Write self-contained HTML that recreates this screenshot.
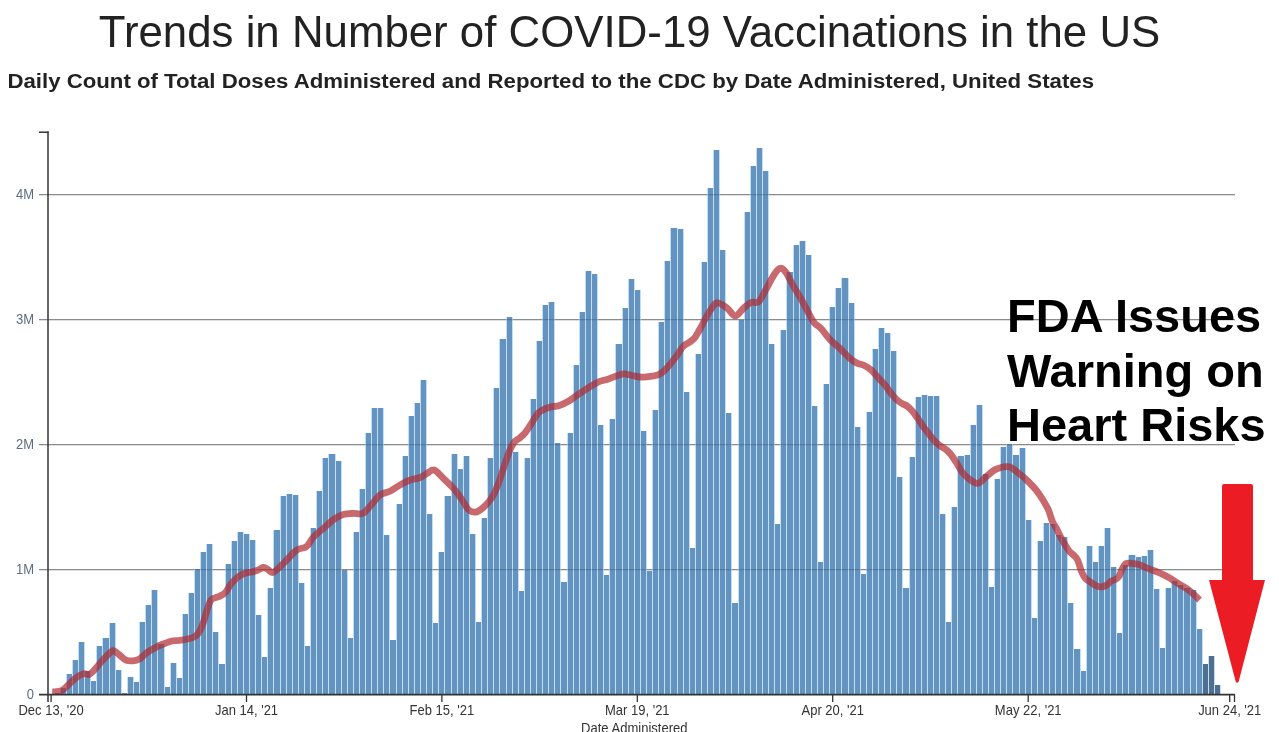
<!DOCTYPE html>
<html><head><meta charset="utf-8"><style>
html,body{margin:0;padding:0;background:#fff;width:1279px;height:732px;overflow:hidden}
svg{display:block;will-change:transform}
text{font-family:"Liberation Sans",sans-serif}
.title{font-size:44px;fill:#222}
.sub{font-size:20px;font-weight:bold;fill:#222}
.yl{font-size:13px;fill:#5d6e80}
.xl{font-size:13px;fill:#333}
.fda{font-size:47px;font-weight:bold;fill:#000}
</style></head><body>
<svg width="1279" height="732" viewBox="0 0 1279 732">
<rect width="1279" height="732" fill="#fff"/>
<text x="629.5" y="47" text-anchor="middle" class="title" textLength="1061.5" lengthAdjust="spacingAndGlyphs">Trends in Number of COVID-19 Vaccinations in the US</text>
<text x="7.4" y="88" class="sub" textLength="1086.6" lengthAdjust="spacingAndGlyphs">Daily Count of Total Doses Administered and Reported to the CDC by Date Administered, United States</text>
<line x1="39" y1="569.6" x2="1235" y2="569.6" stroke="#b0b0b0" stroke-width="1.2"/><line x1="39" y1="444.6" x2="1235" y2="444.6" stroke="#b0b0b0" stroke-width="1.2"/><line x1="39" y1="319.6" x2="1235" y2="319.6" stroke="#b0b0b0" stroke-width="1.2"/><line x1="39" y1="194.6" x2="1235" y2="194.6" stroke="#b0b0b0" stroke-width="1.2"/>
<g shape-rendering="crispEdges"><rect x="54" y="693" width="7" height="2" fill="#bfe0fb"/><rect x="55" y="693" width="5" height="2" fill="#6593bf"/><rect x="60" y="688" width="7" height="7" fill="#bfe0fb"/><rect x="61" y="688" width="5" height="7" fill="#6593bf"/><rect x="66" y="674" width="7" height="21" fill="#bfe0fb"/><rect x="67" y="674" width="5" height="21" fill="#6593bf"/><rect x="72" y="660" width="7" height="35" fill="#bfe0fb"/><rect x="73" y="660" width="5" height="35" fill="#6593bf"/><rect x="78" y="642" width="7" height="53" fill="#bfe0fb"/><rect x="79" y="642" width="5" height="53" fill="#6593bf"/><rect x="84" y="671" width="7" height="24" fill="#bfe0fb"/><rect x="85" y="671" width="5" height="24" fill="#6593bf"/><rect x="90" y="681" width="7" height="14" fill="#bfe0fb"/><rect x="91" y="681" width="5" height="14" fill="#6593bf"/><rect x="96" y="646" width="7" height="49" fill="#bfe0fb"/><rect x="97" y="646" width="5" height="49" fill="#6593bf"/><rect x="102" y="638" width="8" height="57" fill="#bfe0fb"/><rect x="103" y="638" width="6" height="57" fill="#6593bf"/><rect x="109" y="623" width="7" height="72" fill="#bfe0fb"/><rect x="110" y="623" width="5" height="72" fill="#6593bf"/><rect x="115" y="670" width="7" height="25" fill="#bfe0fb"/><rect x="116" y="670" width="5" height="25" fill="#6593bf"/><rect x="121" y="693" width="7" height="2" fill="#bfe0fb"/><rect x="122" y="693" width="5" height="2" fill="#6593bf"/><rect x="127" y="677" width="7" height="18" fill="#bfe0fb"/><rect x="128" y="677" width="5" height="18" fill="#6593bf"/><rect x="133" y="682" width="7" height="13" fill="#bfe0fb"/><rect x="134" y="682" width="5" height="13" fill="#6593bf"/><rect x="139" y="622" width="7" height="73" fill="#bfe0fb"/><rect x="140" y="622" width="5" height="73" fill="#6593bf"/><rect x="145" y="605" width="7" height="90" fill="#bfe0fb"/><rect x="146" y="605" width="5" height="90" fill="#6593bf"/><rect x="151" y="590" width="7" height="105" fill="#bfe0fb"/><rect x="152" y="590" width="5" height="105" fill="#6593bf"/><rect x="157" y="644" width="8" height="51" fill="#bfe0fb"/><rect x="158" y="644" width="6" height="51" fill="#6593bf"/><rect x="164" y="687" width="7" height="8" fill="#bfe0fb"/><rect x="165" y="687" width="5" height="8" fill="#6593bf"/><rect x="170" y="663" width="7" height="32" fill="#bfe0fb"/><rect x="171" y="663" width="5" height="32" fill="#6593bf"/><rect x="176" y="678" width="7" height="17" fill="#bfe0fb"/><rect x="177" y="678" width="5" height="17" fill="#6593bf"/><rect x="182" y="614" width="7" height="81" fill="#bfe0fb"/><rect x="183" y="614" width="5" height="81" fill="#6593bf"/><rect x="188" y="593" width="7" height="102" fill="#bfe0fb"/><rect x="189" y="593" width="5" height="102" fill="#6593bf"/><rect x="194" y="569" width="7" height="126" fill="#bfe0fb"/><rect x="195" y="569" width="5" height="126" fill="#6593bf"/><rect x="200" y="552" width="7" height="143" fill="#bfe0fb"/><rect x="201" y="552" width="5" height="143" fill="#6593bf"/><rect x="206" y="544" width="7" height="151" fill="#bfe0fb"/><rect x="207" y="544" width="5" height="151" fill="#6593bf"/><rect x="212" y="632" width="7" height="63" fill="#bfe0fb"/><rect x="213" y="632" width="5" height="63" fill="#6593bf"/><rect x="218" y="664" width="8" height="31" fill="#bfe0fb"/><rect x="219" y="664" width="6" height="31" fill="#6593bf"/><rect x="225" y="564" width="7" height="131" fill="#bfe0fb"/><rect x="226" y="564" width="5" height="131" fill="#6593bf"/><rect x="231" y="541" width="7" height="154" fill="#bfe0fb"/><rect x="232" y="541" width="5" height="154" fill="#6593bf"/><rect x="237" y="532" width="7" height="163" fill="#bfe0fb"/><rect x="238" y="532" width="5" height="163" fill="#6593bf"/><rect x="243" y="534" width="7" height="161" fill="#bfe0fb"/><rect x="244" y="534" width="5" height="161" fill="#6593bf"/><rect x="249" y="540" width="7" height="155" fill="#bfe0fb"/><rect x="250" y="540" width="5" height="155" fill="#6593bf"/><rect x="255" y="615" width="7" height="80" fill="#bfe0fb"/><rect x="256" y="615" width="5" height="80" fill="#6593bf"/><rect x="261" y="657" width="7" height="38" fill="#bfe0fb"/><rect x="262" y="657" width="5" height="38" fill="#6593bf"/><rect x="267" y="588" width="7" height="107" fill="#bfe0fb"/><rect x="268" y="588" width="5" height="107" fill="#6593bf"/><rect x="273" y="530" width="8" height="165" fill="#bfe0fb"/><rect x="274" y="530" width="6" height="165" fill="#6593bf"/><rect x="280" y="496" width="7" height="199" fill="#bfe0fb"/><rect x="281" y="496" width="5" height="199" fill="#6593bf"/><rect x="286" y="494" width="7" height="201" fill="#bfe0fb"/><rect x="287" y="494" width="5" height="201" fill="#6593bf"/><rect x="292" y="495" width="7" height="200" fill="#bfe0fb"/><rect x="293" y="495" width="5" height="200" fill="#6593bf"/><rect x="298" y="583" width="7" height="112" fill="#bfe0fb"/><rect x="299" y="583" width="5" height="112" fill="#6593bf"/><rect x="304" y="646" width="7" height="49" fill="#bfe0fb"/><rect x="305" y="646" width="5" height="49" fill="#6593bf"/><rect x="310" y="528" width="7" height="167" fill="#bfe0fb"/><rect x="311" y="528" width="5" height="167" fill="#6593bf"/><rect x="316" y="491" width="7" height="204" fill="#bfe0fb"/><rect x="317" y="491" width="5" height="204" fill="#6593bf"/><rect x="322" y="458" width="7" height="237" fill="#bfe0fb"/><rect x="323" y="458" width="5" height="237" fill="#6593bf"/><rect x="328" y="454" width="8" height="241" fill="#bfe0fb"/><rect x="329" y="454" width="6" height="241" fill="#6593bf"/><rect x="335" y="461" width="7" height="234" fill="#bfe0fb"/><rect x="336" y="461" width="5" height="234" fill="#6593bf"/><rect x="341" y="570" width="7" height="125" fill="#bfe0fb"/><rect x="342" y="570" width="5" height="125" fill="#6593bf"/><rect x="347" y="638" width="7" height="57" fill="#bfe0fb"/><rect x="348" y="638" width="5" height="57" fill="#6593bf"/><rect x="353" y="532" width="7" height="163" fill="#bfe0fb"/><rect x="354" y="532" width="5" height="163" fill="#6593bf"/><rect x="359" y="489" width="7" height="206" fill="#bfe0fb"/><rect x="360" y="489" width="5" height="206" fill="#6593bf"/><rect x="365" y="433" width="7" height="262" fill="#bfe0fb"/><rect x="366" y="433" width="5" height="262" fill="#6593bf"/><rect x="371" y="408" width="7" height="287" fill="#bfe0fb"/><rect x="372" y="408" width="5" height="287" fill="#6593bf"/><rect x="377" y="408" width="7" height="287" fill="#bfe0fb"/><rect x="378" y="408" width="5" height="287" fill="#6593bf"/><rect x="383" y="535" width="7" height="160" fill="#bfe0fb"/><rect x="384" y="535" width="5" height="160" fill="#6593bf"/><rect x="389" y="640" width="8" height="55" fill="#bfe0fb"/><rect x="390" y="640" width="6" height="55" fill="#6593bf"/><rect x="396" y="504" width="7" height="191" fill="#bfe0fb"/><rect x="397" y="504" width="5" height="191" fill="#6593bf"/><rect x="402" y="456" width="7" height="239" fill="#bfe0fb"/><rect x="403" y="456" width="5" height="239" fill="#6593bf"/><rect x="408" y="416" width="7" height="279" fill="#bfe0fb"/><rect x="409" y="416" width="5" height="279" fill="#6593bf"/><rect x="414" y="403" width="7" height="292" fill="#bfe0fb"/><rect x="415" y="403" width="5" height="292" fill="#6593bf"/><rect x="420" y="380" width="7" height="315" fill="#bfe0fb"/><rect x="421" y="380" width="5" height="315" fill="#6593bf"/><rect x="426" y="514" width="7" height="181" fill="#bfe0fb"/><rect x="427" y="514" width="5" height="181" fill="#6593bf"/><rect x="432" y="623" width="7" height="72" fill="#bfe0fb"/><rect x="433" y="623" width="5" height="72" fill="#6593bf"/><rect x="438" y="552" width="7" height="143" fill="#bfe0fb"/><rect x="439" y="552" width="5" height="143" fill="#6593bf"/><rect x="444" y="496" width="8" height="199" fill="#bfe0fb"/><rect x="445" y="496" width="6" height="199" fill="#6593bf"/><rect x="451" y="454" width="7" height="241" fill="#bfe0fb"/><rect x="452" y="454" width="5" height="241" fill="#6593bf"/><rect x="457" y="469" width="7" height="226" fill="#bfe0fb"/><rect x="458" y="469" width="5" height="226" fill="#6593bf"/><rect x="463" y="456" width="7" height="239" fill="#bfe0fb"/><rect x="464" y="456" width="5" height="239" fill="#6593bf"/><rect x="469" y="534" width="7" height="161" fill="#bfe0fb"/><rect x="470" y="534" width="5" height="161" fill="#6593bf"/><rect x="475" y="622" width="7" height="73" fill="#bfe0fb"/><rect x="476" y="622" width="5" height="73" fill="#6593bf"/><rect x="481" y="518" width="7" height="177" fill="#bfe0fb"/><rect x="482" y="518" width="5" height="177" fill="#6593bf"/><rect x="487" y="458" width="7" height="237" fill="#bfe0fb"/><rect x="488" y="458" width="5" height="237" fill="#6593bf"/><rect x="493" y="388" width="7" height="307" fill="#bfe0fb"/><rect x="494" y="388" width="5" height="307" fill="#6593bf"/><rect x="499" y="339" width="8" height="356" fill="#bfe0fb"/><rect x="500" y="339" width="6" height="356" fill="#6593bf"/><rect x="506" y="317" width="7" height="378" fill="#bfe0fb"/><rect x="507" y="317" width="5" height="378" fill="#6593bf"/><rect x="512" y="452" width="7" height="243" fill="#bfe0fb"/><rect x="513" y="452" width="5" height="243" fill="#6593bf"/><rect x="518" y="591" width="7" height="104" fill="#bfe0fb"/><rect x="519" y="591" width="5" height="104" fill="#6593bf"/><rect x="524" y="458" width="7" height="237" fill="#bfe0fb"/><rect x="525" y="458" width="5" height="237" fill="#6593bf"/><rect x="530" y="399" width="7" height="296" fill="#bfe0fb"/><rect x="531" y="399" width="5" height="296" fill="#6593bf"/><rect x="536" y="341" width="7" height="354" fill="#bfe0fb"/><rect x="537" y="341" width="5" height="354" fill="#6593bf"/><rect x="542" y="305" width="7" height="390" fill="#bfe0fb"/><rect x="543" y="305" width="5" height="390" fill="#6593bf"/><rect x="548" y="302" width="7" height="393" fill="#bfe0fb"/><rect x="549" y="302" width="5" height="393" fill="#6593bf"/><rect x="554" y="443" width="7" height="252" fill="#bfe0fb"/><rect x="555" y="443" width="5" height="252" fill="#6593bf"/><rect x="560" y="582" width="8" height="113" fill="#bfe0fb"/><rect x="561" y="582" width="6" height="113" fill="#6593bf"/><rect x="567" y="433" width="7" height="262" fill="#bfe0fb"/><rect x="568" y="433" width="5" height="262" fill="#6593bf"/><rect x="573" y="365" width="7" height="330" fill="#bfe0fb"/><rect x="574" y="365" width="5" height="330" fill="#6593bf"/><rect x="579" y="312" width="7" height="383" fill="#bfe0fb"/><rect x="580" y="312" width="5" height="383" fill="#6593bf"/><rect x="585" y="271" width="7" height="424" fill="#bfe0fb"/><rect x="586" y="271" width="5" height="424" fill="#6593bf"/><rect x="591" y="274" width="7" height="421" fill="#bfe0fb"/><rect x="592" y="274" width="5" height="421" fill="#6593bf"/><rect x="597" y="425" width="7" height="270" fill="#bfe0fb"/><rect x="598" y="425" width="5" height="270" fill="#6593bf"/><rect x="603" y="575" width="7" height="120" fill="#bfe0fb"/><rect x="604" y="575" width="5" height="120" fill="#6593bf"/><rect x="609" y="419" width="7" height="276" fill="#bfe0fb"/><rect x="610" y="419" width="5" height="276" fill="#6593bf"/><rect x="615" y="344" width="8" height="351" fill="#bfe0fb"/><rect x="616" y="344" width="6" height="351" fill="#6593bf"/><rect x="622" y="308" width="7" height="387" fill="#bfe0fb"/><rect x="623" y="308" width="5" height="387" fill="#6593bf"/><rect x="628" y="279" width="7" height="416" fill="#bfe0fb"/><rect x="629" y="279" width="5" height="416" fill="#6593bf"/><rect x="634" y="290" width="7" height="405" fill="#bfe0fb"/><rect x="635" y="290" width="5" height="405" fill="#6593bf"/><rect x="640" y="431" width="7" height="264" fill="#bfe0fb"/><rect x="641" y="431" width="5" height="264" fill="#6593bf"/><rect x="646" y="571" width="7" height="124" fill="#bfe0fb"/><rect x="647" y="571" width="5" height="124" fill="#6593bf"/><rect x="652" y="410" width="7" height="285" fill="#bfe0fb"/><rect x="653" y="410" width="5" height="285" fill="#6593bf"/><rect x="658" y="322" width="7" height="373" fill="#bfe0fb"/><rect x="659" y="322" width="5" height="373" fill="#6593bf"/><rect x="664" y="261" width="7" height="434" fill="#bfe0fb"/><rect x="665" y="261" width="5" height="434" fill="#6593bf"/><rect x="670" y="228" width="8" height="467" fill="#bfe0fb"/><rect x="671" y="228" width="6" height="467" fill="#6593bf"/><rect x="677" y="229" width="7" height="466" fill="#bfe0fb"/><rect x="678" y="229" width="5" height="466" fill="#6593bf"/><rect x="683" y="392" width="7" height="303" fill="#bfe0fb"/><rect x="684" y="392" width="5" height="303" fill="#6593bf"/><rect x="689" y="548" width="7" height="147" fill="#bfe0fb"/><rect x="690" y="548" width="5" height="147" fill="#6593bf"/><rect x="695" y="354" width="7" height="341" fill="#bfe0fb"/><rect x="696" y="354" width="5" height="341" fill="#6593bf"/><rect x="701" y="262" width="7" height="433" fill="#bfe0fb"/><rect x="702" y="262" width="5" height="433" fill="#6593bf"/><rect x="707" y="188" width="7" height="507" fill="#bfe0fb"/><rect x="708" y="188" width="5" height="507" fill="#6593bf"/><rect x="713" y="150" width="7" height="545" fill="#bfe0fb"/><rect x="714" y="150" width="5" height="545" fill="#6593bf"/><rect x="719" y="250" width="7" height="445" fill="#bfe0fb"/><rect x="720" y="250" width="5" height="445" fill="#6593bf"/><rect x="725" y="413" width="7" height="282" fill="#bfe0fb"/><rect x="726" y="413" width="5" height="282" fill="#6593bf"/><rect x="731" y="603" width="8" height="92" fill="#bfe0fb"/><rect x="732" y="603" width="6" height="92" fill="#6593bf"/><rect x="738" y="320" width="7" height="375" fill="#bfe0fb"/><rect x="739" y="320" width="5" height="375" fill="#6593bf"/><rect x="744" y="212" width="7" height="483" fill="#bfe0fb"/><rect x="745" y="212" width="5" height="483" fill="#6593bf"/><rect x="750" y="166" width="7" height="529" fill="#bfe0fb"/><rect x="751" y="166" width="5" height="529" fill="#6593bf"/><rect x="756" y="148" width="7" height="547" fill="#bfe0fb"/><rect x="757" y="148" width="5" height="547" fill="#6593bf"/><rect x="762" y="171" width="7" height="524" fill="#bfe0fb"/><rect x="763" y="171" width="5" height="524" fill="#6593bf"/><rect x="768" y="344" width="7" height="351" fill="#bfe0fb"/><rect x="769" y="344" width="5" height="351" fill="#6593bf"/><rect x="774" y="524" width="7" height="171" fill="#bfe0fb"/><rect x="775" y="524" width="5" height="171" fill="#6593bf"/><rect x="780" y="330" width="7" height="365" fill="#bfe0fb"/><rect x="781" y="330" width="5" height="365" fill="#6593bf"/><rect x="786" y="272" width="8" height="423" fill="#bfe0fb"/><rect x="787" y="272" width="6" height="423" fill="#6593bf"/><rect x="793" y="245" width="7" height="450" fill="#bfe0fb"/><rect x="794" y="245" width="5" height="450" fill="#6593bf"/><rect x="799" y="241" width="7" height="454" fill="#bfe0fb"/><rect x="800" y="241" width="5" height="454" fill="#6593bf"/><rect x="805" y="255" width="7" height="440" fill="#bfe0fb"/><rect x="806" y="255" width="5" height="440" fill="#6593bf"/><rect x="811" y="406" width="7" height="289" fill="#bfe0fb"/><rect x="812" y="406" width="5" height="289" fill="#6593bf"/><rect x="817" y="562" width="7" height="133" fill="#bfe0fb"/><rect x="818" y="562" width="5" height="133" fill="#6593bf"/><rect x="823" y="384" width="7" height="311" fill="#bfe0fb"/><rect x="824" y="384" width="5" height="311" fill="#6593bf"/><rect x="829" y="307" width="7" height="388" fill="#bfe0fb"/><rect x="830" y="307" width="5" height="388" fill="#6593bf"/><rect x="835" y="288" width="7" height="407" fill="#bfe0fb"/><rect x="836" y="288" width="5" height="407" fill="#6593bf"/><rect x="841" y="278" width="8" height="417" fill="#bfe0fb"/><rect x="842" y="278" width="6" height="417" fill="#6593bf"/><rect x="848" y="303" width="7" height="392" fill="#bfe0fb"/><rect x="849" y="303" width="5" height="392" fill="#6593bf"/><rect x="854" y="427" width="7" height="268" fill="#bfe0fb"/><rect x="855" y="427" width="5" height="268" fill="#6593bf"/><rect x="860" y="574" width="7" height="121" fill="#bfe0fb"/><rect x="861" y="574" width="5" height="121" fill="#6593bf"/><rect x="866" y="412" width="7" height="283" fill="#bfe0fb"/><rect x="867" y="412" width="5" height="283" fill="#6593bf"/><rect x="872" y="349" width="7" height="346" fill="#bfe0fb"/><rect x="873" y="349" width="5" height="346" fill="#6593bf"/><rect x="878" y="328" width="7" height="367" fill="#bfe0fb"/><rect x="879" y="328" width="5" height="367" fill="#6593bf"/><rect x="884" y="333" width="7" height="362" fill="#bfe0fb"/><rect x="885" y="333" width="5" height="362" fill="#6593bf"/><rect x="890" y="351" width="7" height="344" fill="#bfe0fb"/><rect x="891" y="351" width="5" height="344" fill="#6593bf"/><rect x="896" y="477" width="7" height="218" fill="#bfe0fb"/><rect x="897" y="477" width="5" height="218" fill="#6593bf"/><rect x="902" y="588" width="8" height="107" fill="#bfe0fb"/><rect x="903" y="588" width="6" height="107" fill="#6593bf"/><rect x="909" y="457" width="7" height="238" fill="#bfe0fb"/><rect x="910" y="457" width="5" height="238" fill="#6593bf"/><rect x="915" y="397" width="7" height="298" fill="#bfe0fb"/><rect x="916" y="397" width="5" height="298" fill="#6593bf"/><rect x="921" y="395" width="7" height="300" fill="#bfe0fb"/><rect x="922" y="395" width="5" height="300" fill="#6593bf"/><rect x="927" y="396" width="7" height="299" fill="#bfe0fb"/><rect x="928" y="396" width="5" height="299" fill="#6593bf"/><rect x="933" y="396" width="7" height="299" fill="#bfe0fb"/><rect x="934" y="396" width="5" height="299" fill="#6593bf"/><rect x="939" y="514" width="7" height="181" fill="#bfe0fb"/><rect x="940" y="514" width="5" height="181" fill="#6593bf"/><rect x="945" y="622" width="7" height="73" fill="#bfe0fb"/><rect x="946" y="622" width="5" height="73" fill="#6593bf"/><rect x="951" y="507" width="7" height="188" fill="#bfe0fb"/><rect x="952" y="507" width="5" height="188" fill="#6593bf"/><rect x="957" y="456" width="8" height="239" fill="#bfe0fb"/><rect x="958" y="456" width="6" height="239" fill="#6593bf"/><rect x="964" y="455" width="7" height="240" fill="#bfe0fb"/><rect x="965" y="455" width="5" height="240" fill="#6593bf"/><rect x="970" y="425" width="7" height="270" fill="#bfe0fb"/><rect x="971" y="425" width="5" height="270" fill="#6593bf"/><rect x="976" y="405" width="7" height="290" fill="#bfe0fb"/><rect x="977" y="405" width="5" height="290" fill="#6593bf"/><rect x="982" y="474" width="7" height="221" fill="#bfe0fb"/><rect x="983" y="474" width="5" height="221" fill="#6593bf"/><rect x="988" y="587" width="7" height="108" fill="#bfe0fb"/><rect x="989" y="587" width="5" height="108" fill="#6593bf"/><rect x="994" y="479" width="7" height="216" fill="#bfe0fb"/><rect x="995" y="479" width="5" height="216" fill="#6593bf"/><rect x="1000" y="447" width="7" height="248" fill="#bfe0fb"/><rect x="1001" y="447" width="5" height="248" fill="#6593bf"/><rect x="1006" y="444" width="7" height="251" fill="#bfe0fb"/><rect x="1007" y="444" width="5" height="251" fill="#6593bf"/><rect x="1012" y="455" width="8" height="240" fill="#bfe0fb"/><rect x="1013" y="455" width="6" height="240" fill="#6593bf"/><rect x="1019" y="448" width="7" height="247" fill="#bfe0fb"/><rect x="1020" y="448" width="5" height="247" fill="#6593bf"/><rect x="1025" y="520" width="7" height="175" fill="#bfe0fb"/><rect x="1026" y="520" width="5" height="175" fill="#6593bf"/><rect x="1031" y="618" width="7" height="77" fill="#bfe0fb"/><rect x="1032" y="618" width="5" height="77" fill="#6593bf"/><rect x="1037" y="541" width="7" height="154" fill="#bfe0fb"/><rect x="1038" y="541" width="5" height="154" fill="#6593bf"/><rect x="1043" y="523" width="7" height="172" fill="#bfe0fb"/><rect x="1044" y="523" width="5" height="172" fill="#6593bf"/><rect x="1049" y="524" width="7" height="171" fill="#bfe0fb"/><rect x="1050" y="524" width="5" height="171" fill="#6593bf"/><rect x="1055" y="535" width="7" height="160" fill="#bfe0fb"/><rect x="1056" y="535" width="5" height="160" fill="#6593bf"/><rect x="1061" y="537" width="7" height="158" fill="#bfe0fb"/><rect x="1062" y="537" width="5" height="158" fill="#6593bf"/><rect x="1067" y="603" width="7" height="92" fill="#bfe0fb"/><rect x="1068" y="603" width="5" height="92" fill="#6593bf"/><rect x="1073" y="649" width="8" height="46" fill="#bfe0fb"/><rect x="1074" y="649" width="6" height="46" fill="#6593bf"/><rect x="1080" y="671" width="7" height="24" fill="#bfe0fb"/><rect x="1081" y="671" width="5" height="24" fill="#6593bf"/><rect x="1086" y="546" width="7" height="149" fill="#bfe0fb"/><rect x="1087" y="546" width="5" height="149" fill="#6593bf"/><rect x="1092" y="562" width="7" height="133" fill="#bfe0fb"/><rect x="1093" y="562" width="5" height="133" fill="#6593bf"/><rect x="1098" y="546" width="7" height="149" fill="#bfe0fb"/><rect x="1099" y="546" width="5" height="149" fill="#6593bf"/><rect x="1104" y="528" width="7" height="167" fill="#bfe0fb"/><rect x="1105" y="528" width="5" height="167" fill="#6593bf"/><rect x="1110" y="567" width="7" height="128" fill="#bfe0fb"/><rect x="1111" y="567" width="5" height="128" fill="#6593bf"/><rect x="1116" y="633" width="7" height="62" fill="#bfe0fb"/><rect x="1117" y="633" width="5" height="62" fill="#6593bf"/><rect x="1122" y="565" width="7" height="130" fill="#bfe0fb"/><rect x="1123" y="565" width="5" height="130" fill="#6593bf"/><rect x="1128" y="555" width="8" height="140" fill="#bfe0fb"/><rect x="1129" y="555" width="6" height="140" fill="#6593bf"/><rect x="1135" y="557" width="7" height="138" fill="#bfe0fb"/><rect x="1136" y="557" width="5" height="138" fill="#6593bf"/><rect x="1141" y="556" width="7" height="139" fill="#bfe0fb"/><rect x="1142" y="556" width="5" height="139" fill="#6593bf"/><rect x="1147" y="550" width="7" height="145" fill="#bfe0fb"/><rect x="1148" y="550" width="5" height="145" fill="#6593bf"/><rect x="1153" y="589" width="7" height="106" fill="#bfe0fb"/><rect x="1154" y="589" width="5" height="106" fill="#6593bf"/><rect x="1159" y="648" width="7" height="47" fill="#bfe0fb"/><rect x="1160" y="648" width="5" height="47" fill="#6593bf"/><rect x="1165" y="588" width="7" height="107" fill="#bfe0fb"/><rect x="1166" y="588" width="5" height="107" fill="#6593bf"/><rect x="1171" y="581" width="7" height="114" fill="#bfe0fb"/><rect x="1172" y="581" width="5" height="114" fill="#6593bf"/><rect x="1177" y="585" width="7" height="110" fill="#bfe0fb"/><rect x="1178" y="585" width="5" height="110" fill="#6593bf"/><rect x="1183" y="588" width="8" height="107" fill="#bfe0fb"/><rect x="1184" y="588" width="6" height="107" fill="#6593bf"/><rect x="1190" y="590" width="7" height="105" fill="#bfe0fb"/><rect x="1191" y="590" width="5" height="105" fill="#6593bf"/><rect x="1196" y="629" width="7" height="66" fill="#bfe0fb"/><rect x="1197" y="629" width="5" height="66" fill="#6593bf"/><rect x="1202" y="664" width="7" height="31" fill="#bfe0fb"/><rect x="1203" y="664" width="5" height="31" fill="#4f6f8e"/><rect x="1208" y="656" width="7" height="39" fill="#bfe0fb"/><rect x="1209" y="656" width="5" height="39" fill="#4f6f8e"/><rect x="1214" y="685" width="7" height="10" fill="#bfe0fb"/><rect x="1215" y="685" width="5" height="10" fill="#4f6f8e"/></g>
<line x1="39" y1="569.6" x2="1235" y2="569.6" stroke="#1e2a36" stroke-opacity="0.26" stroke-width="1.2"/><line x1="39" y1="444.6" x2="1235" y2="444.6" stroke="#1e2a36" stroke-opacity="0.26" stroke-width="1.2"/><line x1="39" y1="319.6" x2="1235" y2="319.6" stroke="#1e2a36" stroke-opacity="0.26" stroke-width="1.2"/><line x1="39" y1="194.6" x2="1235" y2="194.6" stroke="#1e2a36" stroke-opacity="0.26" stroke-width="1.2"/>
<path d="M52.2,691.8 C53.0,691.8 55.4,691.7 57.0,691.5 C58.6,691.3 60.1,691.5 61.8,690.6 C63.5,689.7 64.9,688.2 67.2,686.1 C69.5,684.0 72.7,680.2 75.4,678.2 C78.1,676.2 81.3,674.4 83.6,673.8 C85.9,673.2 87.3,675.2 89.1,674.5 C90.9,673.8 92.3,672.1 94.6,669.7 C96.9,667.3 100.1,663.1 102.8,660.1 C105.5,657.1 109.2,653.5 111.0,651.9 C112.8,650.3 112.3,650.3 113.7,650.8 C115.1,651.3 117.2,653.2 119.2,654.7 C121.2,656.2 123.7,659.1 126.0,660.1 C128.3,661.1 130.5,661.0 132.8,660.8 C135.1,660.6 137.2,660.3 139.7,658.8 C142.2,657.3 144.9,653.9 147.9,651.9 C150.9,649.9 154.7,647.9 157.4,646.5 C160.1,645.1 161.6,644.6 164.0,643.7 C166.4,642.8 169.4,641.5 171.9,641.0 C174.4,640.5 176.8,640.8 179.2,640.5 C181.6,640.2 184.1,639.9 186.6,639.3 C189.1,638.7 192.0,638.0 194.0,637.0 C196.0,636.0 197.1,635.0 198.5,633.0 C199.9,631.0 201.4,627.7 202.5,625.0 C203.6,622.3 204.2,619.7 205.0,617.0 C205.8,614.3 206.3,611.8 207.4,608.9 C208.5,606.0 209.6,601.5 211.5,599.5 C213.4,597.5 216.6,597.8 218.9,596.6 C221.2,595.4 223.2,594.8 225.4,592.5 C227.6,590.2 229.3,585.6 232.0,582.6 C234.7,579.6 238.5,576.2 241.8,574.4 C245.1,572.6 249.1,572.6 251.6,572.0 C254.1,571.4 255.0,571.2 257.0,570.5 C259.0,569.8 261.6,567.7 263.4,567.5 C265.2,567.3 266.4,568.7 268.0,569.5 C269.6,570.3 270.5,573.5 273.2,572.4 C275.9,571.2 280.3,566.3 284.2,562.6 C288.1,558.9 292.8,553.0 296.5,550.3 C300.2,547.6 303.5,548.9 306.4,546.6 C309.3,544.4 310.8,539.9 313.7,536.8 C316.6,533.7 320.3,531.1 323.6,528.2 C326.9,525.3 330.1,521.9 333.4,519.6 C336.7,517.3 339.9,515.6 343.2,514.6 C346.5,513.6 349.8,513.6 353.1,513.4 C356.4,513.2 360.0,514.6 362.9,513.4 C365.8,512.2 367.4,509.1 370.3,506.0 C373.2,502.9 376.8,497.4 380.1,495.0 C383.4,492.6 386.7,492.9 390.0,491.3 C393.3,489.7 396.5,487.0 399.8,485.1 C403.1,483.2 406.3,481.4 409.6,480.2 C412.9,479.0 416.6,478.9 419.5,477.8 C422.4,476.7 424.6,474.8 427.0,473.5 C429.4,472.2 431.4,469.0 434.2,469.9 C437.0,470.8 440.7,475.9 444.0,479.0 C447.3,482.1 451.4,486.1 453.9,488.8 C456.4,491.6 457.3,493.1 459.0,495.5 C460.7,497.9 462.6,500.7 464.1,503.0 C465.6,505.3 466.4,508.0 468.2,509.5 C470.0,511.0 472.7,512.3 475.0,512.2 C477.3,512.1 479.5,510.4 481.8,508.7 C484.1,507.0 486.6,504.4 488.7,501.9 C490.8,499.4 492.3,497.3 494.1,493.7 C495.9,490.1 497.8,485.1 499.6,480.1 C501.4,475.1 503.2,468.9 505.0,463.7 C506.8,458.5 508.9,452.3 510.5,448.7 C512.1,445.1 513.0,443.6 514.6,441.8 C516.2,440.0 518.3,439.3 520.1,437.7 C521.9,436.1 523.7,434.6 525.5,432.3 C527.3,430.0 528.8,427.4 531.0,424.1 C533.2,420.8 536.0,415.1 539.0,412.3 C542.0,409.5 545.5,408.5 548.8,407.4 C552.1,406.3 555.4,406.7 558.7,405.7 C562.0,404.7 565.2,403.2 568.5,401.3 C571.8,399.4 575.0,396.6 578.3,394.4 C581.6,392.1 584.9,389.9 588.2,387.8 C591.5,385.8 594.7,383.5 598.0,382.1 C601.3,380.7 604.5,380.3 607.8,379.2 C611.1,378.1 615.0,376.4 617.7,375.5 C620.4,374.6 621.3,373.8 623.8,373.8 C626.2,373.8 629.3,374.9 632.4,375.5 C635.5,376.1 638.9,377.1 642.2,377.2 C645.5,377.3 649.1,376.7 652.0,376.2 C654.9,375.7 656.9,375.5 659.4,374.2 C661.9,372.9 663.9,371.2 666.8,368.1 C669.7,365.0 674.0,359.4 676.7,355.8 C679.4,352.2 680.8,348.8 683.0,346.5 C685.2,344.2 687.8,343.5 689.8,342.0 C691.8,340.5 693.4,339.6 695.0,337.5 C696.6,335.4 697.3,333.8 699.7,329.5 C702.1,325.2 706.6,315.9 709.5,311.5 C712.4,307.1 714.0,303.5 716.9,302.9 C719.8,302.3 723.6,305.6 726.7,307.8 C729.8,310.0 732.4,315.9 735.3,315.9 C738.2,315.9 741.2,310.1 743.9,307.8 C746.6,305.6 748.8,303.4 751.3,302.4 C753.8,301.4 756.2,303.8 758.7,301.6 C761.2,299.4 763.5,293.6 766.0,289.3 C768.5,285.0 771.1,279.3 773.4,275.8 C775.7,272.3 777.5,269.0 779.6,268.4 C781.7,267.8 783.5,269.2 785.7,272.1 C788.0,275.0 790.6,281.3 793.1,285.6 C795.6,289.9 798.0,293.6 800.5,297.9 C803.0,302.2 805.5,307.4 807.8,311.5 C810.0,315.6 811.8,319.6 814.0,322.5 C816.2,325.4 818.6,325.8 821.3,328.7 C824.0,331.6 826.9,336.4 830.0,339.7 C833.1,343.0 836.5,345.2 839.8,348.3 C843.1,351.4 846.7,355.7 849.6,358.2 C852.5,360.7 854.5,361.9 857.0,363.1 C859.5,364.3 861.9,364.3 864.4,365.5 C866.9,366.7 869.1,368.1 871.7,370.5 C874.3,372.9 877.7,377.1 880.0,379.6 C882.3,382.1 883.7,383.4 885.5,385.7 C887.3,388.0 889.1,390.9 890.9,393.2 C892.7,395.5 894.6,397.7 896.4,399.4 C898.2,401.1 900.0,402.3 901.8,403.4 C903.6,404.5 905.5,404.8 907.3,406.2 C909.1,407.6 911.0,409.5 912.8,411.6 C914.6,413.8 916.4,416.5 918.2,419.1 C920.0,421.7 921.9,424.8 923.7,427.3 C925.5,429.8 927.3,431.9 929.1,434.2 C930.9,436.5 932.8,439.1 934.6,441.0 C936.4,442.9 938.3,444.4 940.1,445.8 C941.9,447.2 943.7,447.7 945.5,449.2 C947.3,450.7 949.2,452.3 951.0,454.6 C952.8,456.9 954.7,459.9 956.5,462.8 C958.3,465.7 959.9,469.3 962.0,472.0 C964.1,474.7 966.6,477.1 969.2,479.0 C971.8,480.9 974.9,483.8 977.8,483.4 C980.7,483.0 983.3,478.9 986.4,476.5 C989.5,474.1 992.5,470.8 996.2,469.2 C999.9,467.6 1004.8,466.1 1008.5,466.7 C1012.2,467.3 1015.0,470.4 1018.3,472.9 C1021.6,475.4 1024.9,478.2 1028.2,481.5 C1031.5,484.8 1034.7,488.0 1038.0,492.5 C1041.3,497.0 1045.4,503.8 1047.8,508.5 C1050.2,513.2 1050.7,517.6 1052.2,521.0 C1053.7,524.4 1055.1,526.0 1056.6,528.7 C1058.0,531.5 1059.5,534.8 1060.9,537.5 C1062.4,540.2 1063.8,542.7 1065.3,545.1 C1066.8,547.5 1068.2,550.0 1069.7,551.7 C1071.2,553.4 1072.7,554.2 1074.0,555.5 C1075.3,556.8 1076.4,557.8 1077.3,559.5 C1078.2,561.2 1078.8,563.4 1079.5,565.5 C1080.2,567.6 1080.8,569.9 1081.7,572.0 C1082.6,574.1 1083.7,576.4 1085.0,577.9 C1086.3,579.4 1087.8,580.1 1089.3,581.2 C1090.8,582.3 1092.2,583.6 1093.7,584.5 C1095.2,585.4 1096.6,586.1 1098.1,586.5 C1099.6,586.9 1101.0,587.0 1102.5,586.7 C1104.0,586.5 1105.3,585.9 1106.8,585.0 C1108.2,584.1 1109.7,582.2 1111.2,581.2 C1112.7,580.2 1114.3,580.1 1115.6,579.3 C1116.9,578.5 1117.8,578.2 1118.9,576.5 C1120.0,574.8 1121.0,571.3 1122.1,569.2 C1123.2,567.1 1124.2,564.8 1125.4,563.8 C1126.6,562.8 1126.8,563.0 1129.0,563.1 C1131.2,563.2 1135.5,563.6 1138.8,564.5 C1142.1,565.4 1145.3,567.4 1148.6,568.7 C1151.9,570.0 1155.1,571.0 1158.4,572.4 C1161.7,573.8 1165.0,575.4 1168.3,577.3 C1171.6,579.1 1174.8,581.5 1178.1,583.5 C1181.4,585.5 1185.0,587.4 1188.0,589.6 C1191.0,591.8 1194.1,594.8 1196.0,596.5 C1197.9,598.2 1198.9,599.4 1199.5,600.0" fill="none" stroke="#b02a30" stroke-opacity="0.7" stroke-width="6.8" stroke-linejoin="round" stroke-linecap="butt"/>
<line x1="48" y1="131.5" x2="48" y2="702" stroke="#333" stroke-width="1.5"/>
<line x1="39" y1="132.2" x2="48.7" y2="132.2" stroke="#333" stroke-width="1.5"/>
<line x1="39" y1="694.6" x2="1235" y2="694.6" stroke="#333" stroke-width="1.6"/>
<line x1="1234.5" y1="694.6" x2="1234.5" y2="702" stroke="#333" stroke-width="1.3"/>
<text transform="translate(34,699.2) scale(1,1.1)" text-anchor="end" class="yl">0</text><text transform="translate(34,574.2) scale(1,1.1)" text-anchor="end" class="yl">1M</text><text transform="translate(34,449.2) scale(1,1.1)" text-anchor="end" class="yl">2M</text><text transform="translate(34,324.2) scale(1,1.1)" text-anchor="end" class="yl">3M</text><text transform="translate(34,199.2) scale(1,1.1)" text-anchor="end" class="yl">4M</text>
<line x1="51.1" y1="694.6" x2="51.1" y2="702" stroke="#333" stroke-width="1.3"/><text transform="translate(51.1,715) scale(1,1.1)" text-anchor="middle" class="xl">Dec 13, '20</text><line x1="246.5" y1="694.6" x2="246.5" y2="702" stroke="#333" stroke-width="1.3"/><text transform="translate(246.5,715) scale(1,1.1)" text-anchor="middle" class="xl">Jan 14, '21</text><line x1="441.9" y1="694.6" x2="441.9" y2="702" stroke="#333" stroke-width="1.3"/><text transform="translate(441.9,715) scale(1,1.1)" text-anchor="middle" class="xl">Feb 15, '21</text><line x1="637.3" y1="694.6" x2="637.3" y2="702" stroke="#333" stroke-width="1.3"/><text transform="translate(637.3,715) scale(1,1.1)" text-anchor="middle" class="xl">Mar 19, '21</text><line x1="832.7" y1="694.6" x2="832.7" y2="702" stroke="#333" stroke-width="1.3"/><text transform="translate(832.7,715) scale(1,1.1)" text-anchor="middle" class="xl">Apr 20, '21</text><line x1="1028.2" y1="694.6" x2="1028.2" y2="702" stroke="#333" stroke-width="1.3"/><text transform="translate(1028.2,715) scale(1,1.1)" text-anchor="middle" class="xl">May 22, '21</text><line x1="1229.7" y1="694.6" x2="1229.7" y2="702" stroke="#333" stroke-width="1.3"/><text transform="translate(1229.7,715) scale(1,1.1)" text-anchor="middle" class="xl">Jun 24, '21</text>
<text transform="translate(634.3,733) scale(1,1.1)" text-anchor="middle" class="xl" textLength="106.5" lengthAdjust="spacingAndGlyphs">Date Administered</text>
<text class="fda" x="1007" y="332">FDA Issues</text>
<text class="fda" x="1007" y="387">Warning on</text>
<text class="fda" x="1007" y="441">Heart Risks</text>
<path d="M1224,484 L1251,484 Q1253,484 1253,486 L1253,580 L1265,580 L1238.7,681.5 Q1237.2,684 1235.7,681.5 L1209,580 L1222,580 L1222,486 Q1222,484 1224,484 Z" fill="#ec1c24"/>
</svg>
</body></html>
